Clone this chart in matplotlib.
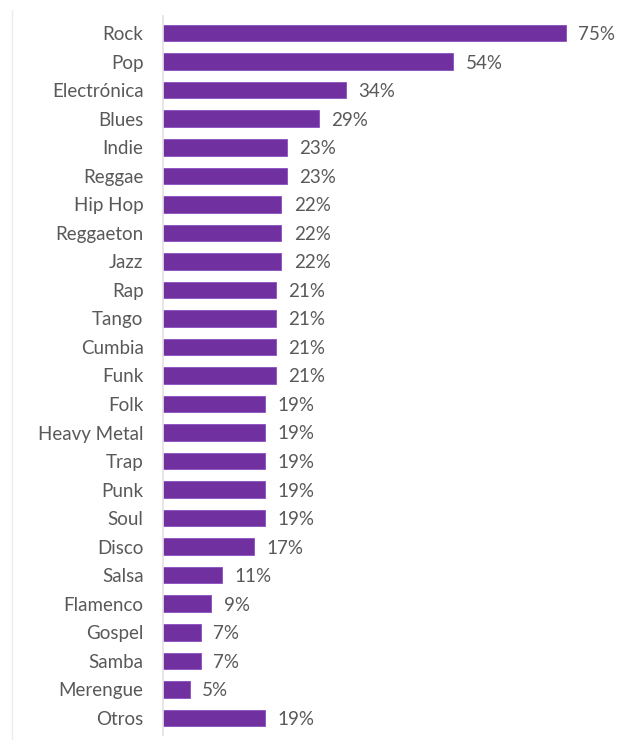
import matplotlib.pyplot as plt
from matplotlib.lines import Line2D

# Géneros musicales y porcentaje de preferencia
generos = ["Rock", "Pop", "Electrónica", "Blues", "Indie", "Reggae", "Hip Hop",
           "Reggaeton", "Jazz", "Rap", "Tango", "Cumbia", "Funk", "Folk",
           "Heavy Metal", "Trap", "Punk", "Soul", "Disco", "Salsa", "Flamenco",
           "Gospel", "Samba", "Merengue", "Otros"]
porcentajes = [75, 54, 34, 29, 23, 23, 22, 22, 22, 21, 21, 21, 21, 19,
               19, 19, 19, 19, 17, 11, 9, 7, 7, 5, 19]

plt.rcParams['font.family'] = ['Lato', 'DejaVu Sans']

fig = plt.figure(figsize=(6.24, 7.40), dpi=100)
ax = fig.add_axes([163 / 624, 5 / 740, (600 - 163) / 624, (724 - 5) / 740])

pos = list(range(len(generos)))
bars = ax.barh(pos, porcentajes, height=0.58, color="#7030A0",
               edgecolor="#8a4fc0", linewidth=0.6)

ax.set_ylim(len(generos) - 0.4, -0.6)
ax.set_xlim(0, (600 - 163) / 5.37)
ax.set_yticks(pos)
ax.set_yticklabels(generos, fontsize=13.5, color="#595959")
ax.tick_params(axis="y", length=0, pad=14)
ax.set_xticks([])

for spine in ["top", "right", "bottom"]:
    ax.spines[spine].set_visible(False)
ax.spines["left"].set_color("#e2e2e2")
ax.spines["left"].set_linewidth(1.2)

for b, v in zip(bars, porcentajes):
    ax.annotate(f"{v}%", (b.get_width(), b.get_y() + b.get_height() / 2),
                xytext=(9, -1), textcoords="offset points",
                va="center", ha="left", fontsize=13.5, color="#595959")

# borde izquierdo tenue de la imagen original
fig.add_artist(Line2D([12 / 624, 12 / 624], [0, 1 - 10 / 740],
                      color="#ececec", linewidth=1))

fig.savefig("out.png", dpi=100)
